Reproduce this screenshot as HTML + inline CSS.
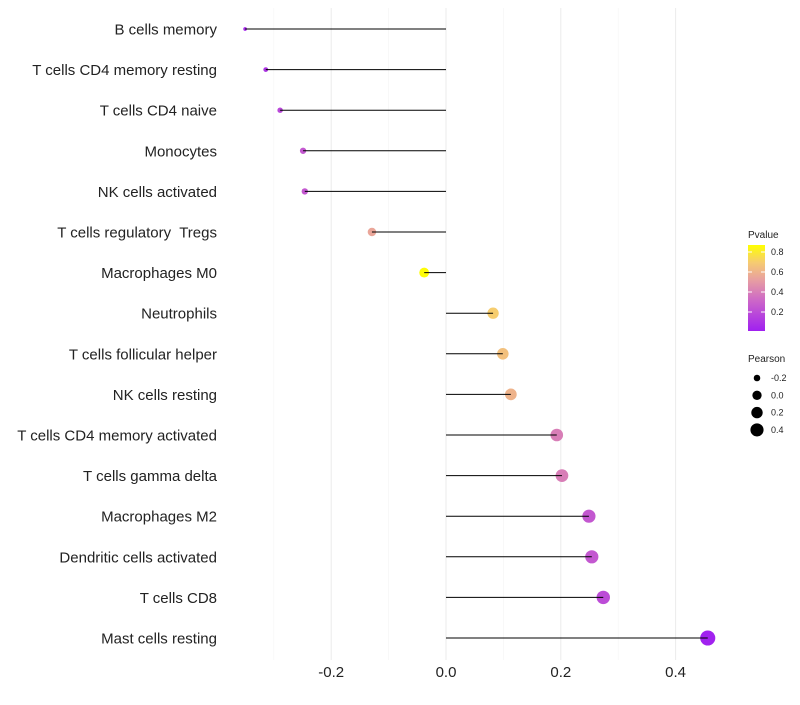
<!DOCTYPE html>
<html><head><meta charset="utf-8"><style>
body{margin:0;background:#fff;font-family:"Liberation Sans",sans-serif;}
svg text{font-family:"Liberation Sans",sans-serif;white-space:pre;}
</style></head><body>
<svg id="chart" width="800" height="700" xmlns="http://www.w3.org/2000/svg">
<defs><linearGradient id="pg" x1="0" y1="1" x2="0" y2="0">
<stop offset="0" stop-color="#a020f0"/><stop offset="0.35" stop-color="#cc66c8"/><stop offset="0.6" stop-color="#e8a0a0"/><stop offset="0.8" stop-color="#f6cc70"/><stop offset="1" stop-color="#ffff00"/></linearGradient></defs>
<g id="grid"></g><g id="dots"></g><g id="marks"></g><g id="labels"></g><g id="legend"></g>
</svg>
<script>
const categories=["B cells memory","T cells CD4 memory resting","T cells CD4 naive","Monocytes","NK cells activated","T cells regulatory  Tregs","Macrophages M0","Neutrophils","T cells follicular helper","NK cells resting","T cells CD4 memory activated","T cells gamma delta","Macrophages M2","Dendritic cells activated","T cells CD8","Mast cells resting"];
const pearson=[-0.350,-0.314,-0.289,-0.249,-0.246,-0.129,-0.038,0.082,0.099,0.113,0.193,0.202,0.249,0.254,0.274,0.456];
const pvalue=[0.05,0.1,0.18,0.25,0.25,0.55,0.86,0.7,0.65,0.6,0.4,0.4,0.25,0.25,0.2,0.02];
const xTicks=[-0.2,0,0.2,0.4];
const xTickLabels=["-0.2","0.0","0.2","0.4"];
const xMinor=[-0.3,-0.1,0.1,0.3];
const pTicks=[0.2,0.4,0.6,0.8];
const sizeTicks=[-0.2,0.0,0.2,0.4];

const NS="http://www.w3.org/2000/svg";
const x=v=>446+v*574;
const y=i=>29+i*40.6;
const r=v=>1.08*Math.sqrt(Math.max(1,22.9+57.2*v));
const stops=[[0,[160,32,240]],[0.35,[204,102,200]],[0.6,[232,160,160]],[0.8,[246,204,112]],[1,[255,255,0]]];
function col(p){let t=Math.min(1,Math.max(0,(p-0.01)/0.86));
 for(let k=1;k<stops.length;k++){if(t<=stops[k][0]){const a=stops[k-1],b=stops[k],f=(t-a[0])/(b[0]-a[0]);
 return "rgb("+a[1].map((c,j)=>Math.round(c+(b[1][j]-c)*f)).join(",")+")";}}return "rgb(255,255,0)";}
function mk(tag,attrs,parent){const e=document.createElementNS(NS,tag);for(const k in attrs)e.setAttribute(k,attrs[k]);parent.appendChild(e);return e;}
const grid=document.getElementById('grid'),dots=document.getElementById('dots'),marks=document.getElementById('marks'),labels=document.getElementById('labels'),legend=document.getElementById('legend');
xMinor.forEach(v=>{const l=mk('line',{x1:x(v),x2:x(v),y1:8,y2:660,stroke:'#f4f4f4','stroke-width':0.6},grid);

});
xTicks.forEach((v,i)=>{const l=mk('line',{x1:x(v),x2:x(v),y1:8,y2:660,stroke:'#ebebeb','stroke-width':1},grid);


const t=mk('text',{x:x(v),y:677,'text-anchor':'middle','font-size':15,fill:'#222'},labels);t.textContent=xTickLabels[i];

});
categories.forEach((c,i)=>{
const d=mk('circle',{cx:x(pearson[i]),cy:y(i),r:r(pearson[i]),fill:col(pvalue[i])},dots);


const l=mk('line',{x1:x(0),x2:x(pearson[i]),y1:y(i),y2:y(i),stroke:'#000','stroke-width':1},marks);


const t=mk('text',{x:217,y:y(i)+5.5,'text-anchor':'end','font-size':15,fill:'#222'},labels);t.textContent=c;

});
let t=mk('text',{x:748,y:238,'font-size':10,fill:'#222'},legend);t.textContent="Pvalue";


const bar=mk('rect',{x:748,y:245,width:17,height:86,fill:'url(#pg)'},legend);


pTicks.forEach(p=>{const yy=331-(p-0.01)*100;
mk('line',{x1:748,x2:752,y1:yy,y2:yy,stroke:'#fff'},legend);mk('line',{x1:761,x2:765,y1:yy,y2:yy,stroke:'#fff'},legend);
const tt=mk('text',{x:771,y:yy+3,'font-size':9,fill:'#222'},legend);tt.textContent=p.toFixed(1);

});
t=mk('text',{x:748,y:362,'font-size':10,fill:'#222'},legend);t.textContent="Pearson";


sizeTicks.forEach((v,i)=>{const yy=378+i*17.3;
const c=mk('circle',{cx:757,cy:yy,r:r(v)*0.9,fill:'#000'},legend);


const tt=mk('text',{x:771,y:yy+3,'font-size':9,fill:'#222'},legend);tt.textContent=v.toFixed(1);

});
</script>
</body></html>
